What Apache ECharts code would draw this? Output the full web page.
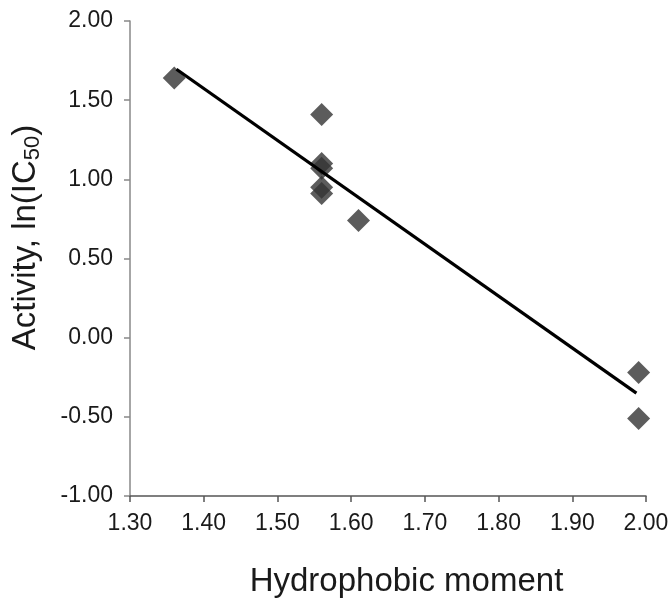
<!DOCTYPE html>
<html>
<head>
<meta charset="utf-8">
<script src="https://cdn.jsdelivr.net/npm/echarts@6/dist/echarts.min.js"></script>
<style>html,body{margin:0;padding:0;background:#fff}#c{width:669px;height:600px}</style>
</head>
<body>
<div id="c"></div>
<script>
// Data
var hydrophobicMoment = [1.36, 1.56, 1.56, 1.56, 1.56, 1.56, 1.61, 1.99, 1.99];
var activityLnIC50   = [1.64, 1.41, 1.10, 1.07, 0.95, 0.91, 0.74, -0.22, -0.51];
// Trend line end points (as drawn in the reference)
var trendX = [1.363, 1.987];
var trendY = [1.695, -0.350];
// Axis ranges / tick steps
var xRange = [1.30, 2.00], xStep = 0.10;
var yRange = [-1.00, 2.00], yStep = 0.50;

var FONT = '"Liberation Sans", Arial, sans-serif';
var points = hydrophobicMoment.map(function (x, i) { return [x, activityLnIC50[i]]; });
var trend = trendX.map(function (x, i) { return [x, trendY[i]]; });

var chart = echarts.init(document.getElementById('c'), null, {renderer: 'canvas'});
chart.setOption({
  animation: false,
  backgroundColor: '#fff',
  grid: {left: 130, right: 23, top: 21, bottom: 104, containLabel: false, outerBoundsMode: 'none'},
  xAxis: {
    type: 'value', min: xRange[0], max: xRange[1], interval: xStep,
    splitLine: {show: false},
    axisLine: {show: true, onZero: false, lineStyle: {color: '#555', width: 1.5}},
    axisTick: {show: true, length: 6, inside: false, lineStyle: {color: '#555', width: 1.5}},
    axisLabel: {fontSize: 23, fontFamily: FONT, color: '#1a1a1a', margin: 16,
      formatter: function (v) { return v.toFixed(2); }},
    name: 'Hydrophobic moment', nameLocation: 'middle', nameGap: 69,
    nameTextStyle: {fontSize: 33, fontFamily: FONT, color: '#1a1a1a', padding: [0, 0, 0, 37]}
  },
  yAxis: {
    type: 'value', min: yRange[0], max: yRange[1], interval: yStep,
    splitLine: {show: false},
    axisLine: {show: true, onZero: false, lineStyle: {color: '#888', width: 1.5}},
    axisTick: {show: true, length: 6, inside: false, lineStyle: {color: '#888', width: 1.5}},
    axisLabel: {fontSize: 23, fontFamily: FONT, color: '#1a1a1a', margin: 17,
      formatter: function (v) { return v.toFixed(2); }},
    name: '{a|Activity, ln(IC}{s|50}{a|)}', nameLocation: 'middle', nameRotate: 90, nameGap: 86,
    nameTextStyle: {
      padding: [0, 0, 0, 42],
      rich: {
        a: {fontSize: 33, fontFamily: FONT, color: '#1a1a1a', lineHeight: 37, verticalAlign: 'middle'},
        s: {fontSize: 22, fontFamily: FONT, color: '#1a1a1a', lineHeight: 22, padding: [18, 0, 0, 0], verticalAlign: 'bottom'}
      }
    }
  },
  series: [
    {
      type: 'scatter', data: points, symbol: 'diamond', symbolSize: 23,
      itemStyle: {color: '#333'}, z: 2
    },
    {
      type: 'line', data: trend, symbol: 'none', z: 3,
      lineStyle: {color: '#000', width: 3.2}
    }
  ]
});
</script>
</body>
</html>
